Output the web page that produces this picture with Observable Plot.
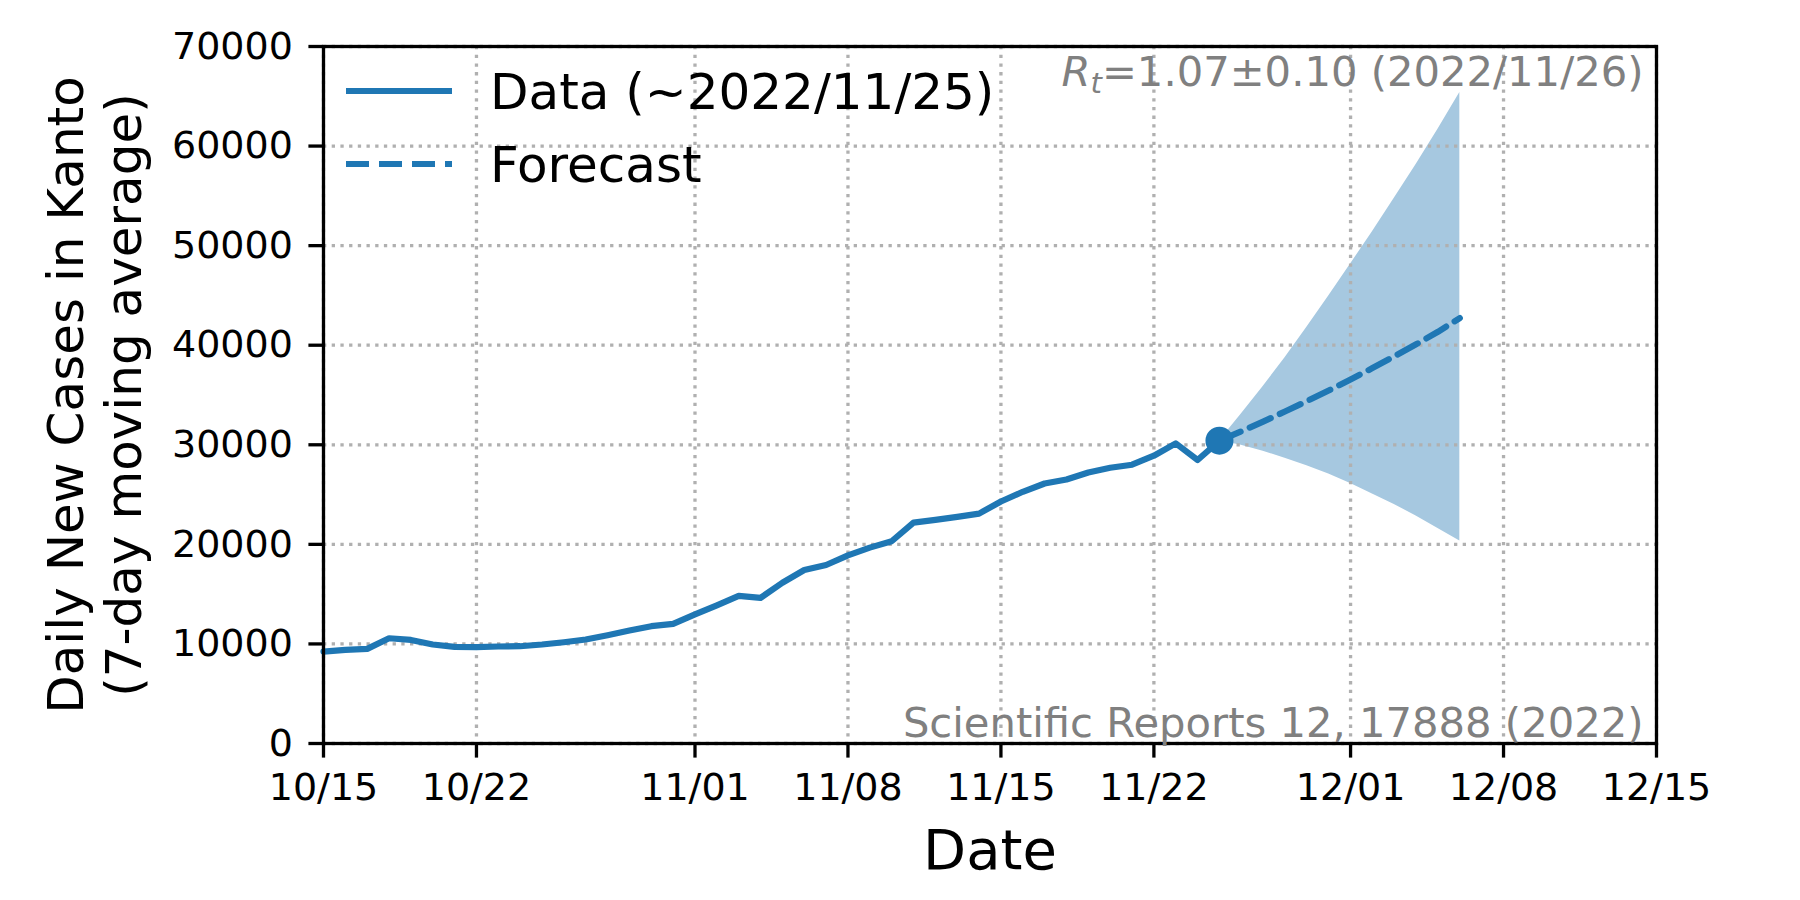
<!DOCTYPE html>
<html>
<head>
<meta charset="utf-8">
<script src="https://cdn.jsdelivr.net/npm/d3@7"></script>
<script src="https://cdn.jsdelivr.net/npm/@observablehq/plot@0.6"></script>
<style>
  body { margin: 0; background: #fff; }
</style>
</head>
<body>
<div id="chart"></div>
<script>
// daily 7-day moving average, 2022/10/15 .. 2022/11/25
const dataStart = "2022-10-15";
const dataCases = [
  9230, 9400, 9500, 10570, 10400, 9940, 9700, 9670, 9740, 9770,
  9940, 10170, 10440, 10880, 11350, 11780, 12020, 12960, 13870, 14830,
  14630, 16140, 17420, 17930, 18900, 19670, 20310, 22190, 22460, 22760,
  23090, 24300, 25280, 26110, 26520, 27220, 27690, 28000, 28900, 30140,
  28470, 30410
];

// forecast 2022/11/25 .. 2022/12/06
const forecastStart = "2022-11-25";
const forecastMedian = [30410, 31350, 32330, 33340, 34380, 35450, 36560, 37700, 38880, 40090, 41350, 42730];
const forecastUpper  = [30410, 33100, 35850, 38750, 41800, 44950, 48150, 51400, 54750, 58150, 61700, 65390];
const forecastLower  = [30410, 29950, 29350, 28650, 27900, 27060, 26100, 25050, 24000, 22860, 21600, 20340];

const xTicks = ["2022-10-15", "2022-10-22", "2022-11-01", "2022-11-08", "2022-11-15", "2022-11-22", "2022-12-01", "2022-12-08", "2022-12-15"];
const yTicks = [0, 10000, 20000, 30000, 40000, 50000, 60000, 70000];

const rtLabel = "Rt=1.07±0.10 (2022/11/26)";
const sourceLabel = "Scientific Reports 12, 17888 (2022)";
const yLabel = "Daily New Cases in Kanto\n(7-day moving average)";
const xLabel = "Date";
const legendLabels = ["Data (~2022/11/25)", "Forecast"];

const blue = "#1f77b4";
const band = "#a6c8e0";
const gridStyle = { stroke: "#b0b0b0", strokeOpacity: 1, strokeWidth: 3.3, strokeDasharray: "3.3,5.4" };

const data = dataCases.map((v, i) => ({ date: d3.utcDay.offset(new Date(dataStart), i), cases: v }));
const forecast = forecastMedian.map((v, i) => ({
  date: d3.utcDay.offset(new Date(forecastStart), i),
  median: v,
  upper: forecastUpper[i],
  lower: forecastLower[i]
}));
const xTickDates = xTicks.map(d => new Date(d));

const p = Plot.plot({
  width: 1800,
  height: 900,
  marginTop: 46,
  marginBottom: 157,
  marginLeft: 323,
  marginRight: 144,
  style: { fontFamily: "DejaVu Sans", fontSize: "38px", color: "black", background: "white" },
  x: { type: "utc", domain: [xTickDates[0], xTickDates[xTickDates.length - 1]] },
  y: { domain: [0, 70000] },
  marks: [
    Plot.areaY(forecast, { x: "date", y1: "lower", y2: "upper", fill: band }),
    Plot.gridX(xTickDates, gridStyle),
    Plot.gridY(yTicks, gridStyle),
    Plot.line(data, { x: "date", y: "cases", stroke: blue, strokeWidth: 6.2 }),
    Plot.line(forecast, { x: "date", y: "median", stroke: blue, strokeWidth: 6.2, strokeDasharray: "23,10" }),
    Plot.dot(data.slice(-1), { x: "date", y: "cases", r: 14, fill: blue }),
    Plot.frame({ stroke: "black", strokeWidth: 3.3 }),
    Plot.axisX(xTickDates, { tickFormat: d3.utcFormat("%m/%d"), tickSize: 14.6, tickPadding: 15, strokeWidth: 3.3, label: null, fontSize: 38 }),
    Plot.axisY(yTicks, { tickFormat: d3.format("d"), tickSize: 14.6, tickPadding: 16, strokeWidth: 3.3, label: null, fontSize: 38 }),
    Plot.text([rtLabel], { text: d => d, frameAnchor: "top-right", textAnchor: "end", lineAnchor: "top", dx: -13, dy: 10, fill: "#808080", fontSize: 41.7 }),
    Plot.text([sourceLabel], { text: d => d, frameAnchor: "bottom-right", textAnchor: "end", lineAnchor: "bottom", dx: -13, dy: -7, fill: "#808080", fontSize: 41.7 }),
    Plot.text([yLabel], { text: d => d, frameAnchor: "left", textAnchor: "middle", lineAnchor: "middle", rotate: -90, dx: -230, fontSize: 50, lineHeight: 1.16, fill: "black" }),
    Plot.text([xLabel], { text: d => d, frameAnchor: "bottom", lineAnchor: "top", dy: 86, fontSize: 56, fill: "black" })
  ]
});

const svg = d3.select(p);

// italic R with subscript t, as in the mathtext annotation
svg.selectAll("text").filter(function () { return this.textContent === rtLabel; }).each(function () {
  const t = d3.select(this);
  t.text(null);
  t.append("tspan").attr("font-style", "italic").text("R");
  t.append("tspan").attr("font-style", "italic").attr("font-size", "0.7em").attr("dy", "0.22em").text("t");
  t.append("tspan").attr("dy", "-0.15em").text(rtLabel.slice(2));
});

// legend in the upper left corner, no frame
const legend = svg.append("g")
  .attr("font-family", "DejaVu Sans")
  .attr("font-size", 50)
  .attr("text-anchor", "start");
const rows = [
  { label: legendLabels[0], y: 91, dash: null },
  { label: legendLabels[1], y: 164, dash: "23,10" }
];
for (const r of rows) {
  legend.append("line")
    .attr("x1", 346).attr("x2", 452).attr("y1", r.y).attr("y2", r.y)
    .attr("stroke", blue).attr("stroke-width", 6.2)
    .attr("stroke-dasharray", r.dash);
  legend.append("text")
    .attr("x", 490).attr("y", r.y + 18)
    .attr("fill", "black")
    .text(r.label);
}

document.getElementById("chart").append(p);
</script>
</body>
</html>
